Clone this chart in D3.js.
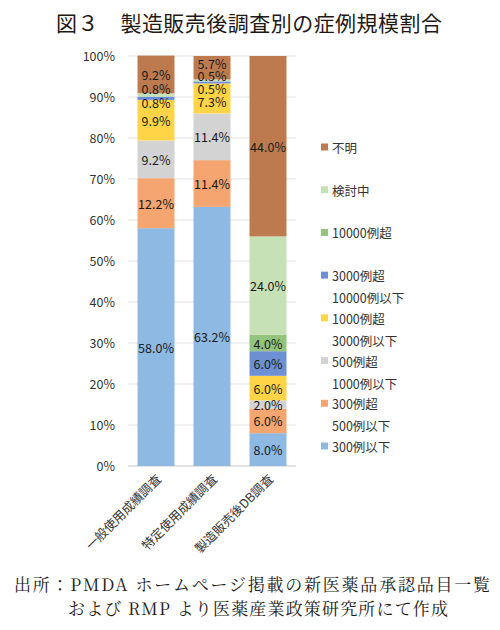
<!DOCTYPE html>
<html>
<head>
<meta charset="utf-8">
<script src="https://cdn.jsdelivr.net/npm/d3@7"></script>
<style>
  body { margin: 0; background: #fff; }
  text { font-family: "Noto Sans CJK JP", "Noto Sans", sans-serif; }
</style>
</head>
<body>
<script>
// 調査の種類（x軸）
const surveys = ["一般使用成績調査", "特定使用成績調査", "製造販売後DB調査"]

// 症例規模（下から積み上げる順）
const sizes = ["300例以下", "300例超", "500例超", "1000例超", "3000例超", "10000例超", "検討中", "不明"]
const legendLines = [
    ["300例以下"],
    ["300例超", "500例以下"],
    ["500例超", "1000例以下"],
    ["1000例超", "3000例以下"],
    ["3000例超", "10000例以下"],
    ["10000例超"],
    ["検討中"],
    ["不明"]
]

// 割合（%）、sizes と同じ順
const ippan = [58.0, 12.2, 9.2, 9.9, 0.8, 0, 0.8, 9.2]
const tokutei = [63.2, 11.4, 11.4, 7.3, 0.5, 0, 0.5, 5.7]
const dbChosa = [8.0, 6.0, 2.0, 6.0, 6.0, 4.0, 24.0, 44.0]

const yTicks = [0, 10, 20, 30, 40, 50, 60, 70, 80, 90, 100]

const colors = ["#8db9e3", "#f4a570", "#d3d3d3", "#ffd447", "#6d8fd3", "#93c47d", "#c7e1b6", "#bd7a4e"]

// 小さい値のラベルが重ならないようにずらす（px）
const nudge = {
    "0-7": 0, "0-6": -6, "0-4": 4.5,
    "1-7": -4, "1-6": -4.5, "1-4": 6.5, "1-3": 3
}

var width = 500,
    height = 630;

var svg = d3.select("body")
    .append("svg")
    .attr("width", width)
    .attr("height", height);

var table = [ippan, tokutei, dbChosa].map((vals, i) => {
    var row = { survey: surveys[i] }
    sizes.forEach((s, j) => row[s] = vals[j])
    return row
})

var stack = d3.stack().keys(sizes)(table)

var x = d3.scaleBand()
    .domain(surveys)
    .range([128, 296])
    .paddingInner(0.34)
    .paddingOuter(0.17);

var y = d3.scaleLinear()
    .domain([0, 100])
    .range([466, 56]);

// タイトル
svg.append("text")
    .attr("x", 56)
    .attr("y", 31)
    .attr("textLength", 386)
    .attr("lengthAdjust", "spacing")
    .style("font-size", "21px")
    .attr("fill", "#231815")
    .text("図３　製造販売後調査別の症例規模割合");

// グリッド線
svg.append("g")
    .selectAll("line")
    .data(yTicks)
    .join("line")
    .attr("x1", 128)
    .attr("x2", 296)
    .attr("y1", d => y(d))
    .attr("y2", d => y(d))
    .attr("stroke", d => d == 0 ? "#c8c8c8" : "#e2e2e2")
    .attr("stroke-width", 1);

var yAxis = svg.append("g")
    .attr("transform", "translate(115,0)")
    .call(d3.axisLeft(y).tickValues(yTicks).tickFormat(d => d + "%").tickSize(0).tickPadding(0));
yAxis.select(".domain").remove();
yAxis.selectAll("text")
    .style("font-size", "12.5px")
    .attr("fill", "#333");

// 棒
var layers = svg.append("g")
    .selectAll("g")
    .data(stack)
    .join("g")
    .attr("fill", (d, i) => colors[i]);

layers.selectAll("rect")
    .data(d => d)
    .join("rect")
    .attr("x", d => x(d.data.survey))
    .attr("width", x.bandwidth())
    .attr("y", d => y(d[1]))
    .attr("height", d => y(d[0]) - y(d[1]));

// データラベル
stack.forEach((layer, j) => {
    layer.forEach((d, i) => {
        var v = d[1] - d[0]
        if (v <= 0) return
        var dy = nudge[i + "-" + j] || 0
        svg.append("text")
            .attr("x", x(d.data.survey) + x.bandwidth() / 2)
            .attr("y", y((d[0] + d[1]) / 2) + dy)
            .attr("text-anchor", "middle")
            .attr("dominant-baseline", "central")
            .style("font-size", "12.5px")
            .attr("fill", "#1a1a1a")
            .text(v.toFixed(1) + "%");
    })
})

// x軸ラベル
svg.append("g")
    .selectAll("text")
    .data(surveys)
    .join("text")
    .attr("transform", d => `translate(${x(d) + x.bandwidth() / 2 + 6},480) rotate(-45)`)
    .attr("text-anchor", "end")
    .style("font-size", "12.5px")
    .attr("fill", "#333")
    .text(d => d);

// 凡例
var legendY = d3.scaleLinear().domain([0, sizes.length - 1]).range([446, 147]);

var legend = svg.append("g")
    .selectAll("g")
    .data(sizes)
    .join("g")
    .attr("transform", (d, i) => `translate(321,${legendY(i)})`);

legend.append("rect")
    .attr("x", 0)
    .attr("y", -3.5)
    .attr("width", 7)
    .attr("height", 7)
    .attr("fill", (d, i) => colors[i]);

legend.each(function (d, i) {
    var t = d3.select(this).append("text")
        .attr("x", 11)
        .attr("y", 0)
        .attr("dominant-baseline", "central")
        .style("font-size", "12.5px")
        .attr("fill", "#333");
    legendLines[i].forEach((line, k) => {
        t.append("tspan")
            .attr("x", 11)
            .attr("y", k * 22)
            .text(line);
    })
})

// 出所
svg.append("text")
    .attr("x", 14)
    .attr("y", 591)
    .attr("textLength", 476)
    .attr("lengthAdjust", "spacing")
    .style("font-size", "17px")
    .style("font-family", "'Noto Serif CJK JP', 'DejaVu Serif', 'Noto Sans CJK JP', serif")
    .attr("fill", "#231815")
    .text("出所：PMDA ホームページ掲載の新医薬品承認品目一覧");

svg.append("text")
    .attr("x", 68)
    .attr("y", 615)
    .attr("textLength", 380)
    .attr("lengthAdjust", "spacing")
    .style("font-size", "17px")
    .style("font-family", "'Noto Serif CJK JP', 'DejaVu Serif', 'Noto Sans CJK JP', serif")
    .attr("fill", "#231815")
    .text("および RMP より医薬産業政策研究所にて作成");
</script>
</body>
</html>
